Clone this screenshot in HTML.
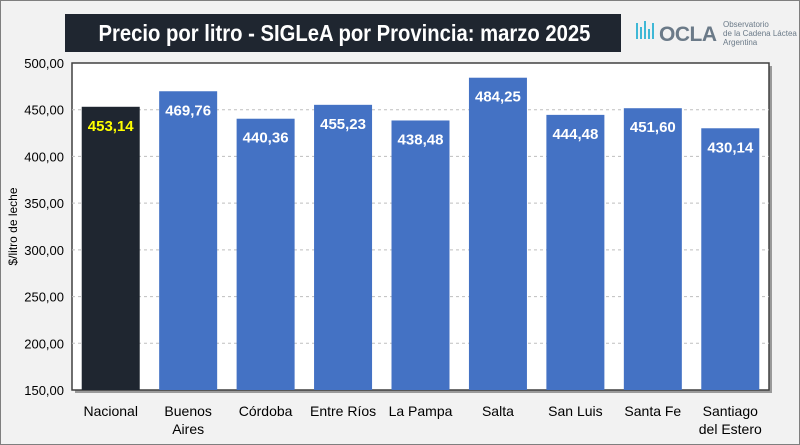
<!DOCTYPE html>
<html><head><meta charset="utf-8"><style>
body{margin:0;background:#fff}
#wrap{position:relative;width:798px;height:443px;background:#f2f2f2;border:1px solid #7f7f7f;font-family:"Liberation Sans",sans-serif}
#title{position:absolute;left:64px;top:13px;width:556px;height:38px;background:#1f2630;color:#fff;font-weight:bold;font-size:23px;line-height:38px;text-align:center;white-space:nowrap;overflow:hidden}
#title span{display:inline-block;transform:scaleX(0.88)}
#logo{position:absolute;left:634px;top:16px;color:#6b7a88}
</style></head><body>
<div id="wrap">
<div id="title"><span>Precio por litro - SIGLeA por Provincia: marzo 2025</span></div>
<div id="logo">
<svg width="165" height="36"><path d="M2 22 V6 M6 22 V10 M10 22 V4 M14 22 V12 M18 22 V6" stroke="#3fb8d6" stroke-width="2" fill="none"/><text x="24" y="24" font-size="21" font-weight="bold" fill="#6b7a88" font-family="Liberation Sans" textLength="58">OCLA</text><text x="88" y="10" font-size="8" fill="#6b7a88">Observatorio</text><text x="88" y="19" font-size="8" fill="#6b7a88">de la Cadena Láctea</text><text x="88" y="28" font-size="8" fill="#6b7a88">Argentina</text></svg></div>
<svg id="chart" width="798" height="443" style="position:absolute;left:0;top:0"></svg>
</div>
<script>
const categories=[["Nacional"],["Buenos","Aires"],["Córdoba"],["Entre Ríos"],["La Pampa"],["Salta"],["San Luis"],["Santa Fe"],["Santiago","del Estero"]];
const values=[453.14,469.76,440.36,455.23,438.48,484.25,444.48,451.60,430.14];
const ticks=[150,200,250,300,350,400,450,500];
const NS="http://www.w3.org/2000/svg",svg=document.getElementById('chart');
const L=71,R=768,T=62,B=389,yMin=150,yMax=500;
const y=v=>B-(v-yMin)/(yMax-yMin)*(B-T);
const slot=(R-L)/categories.length,bw=58;
const xc=i=>L+slot*(i+0.5);
function mk(t,a){const e=document.createElementNS(NS,t);for(const k in a)e.setAttribute(k,a[k]);svg.appendChild(e);return e;}
const fmt=v=>v.toFixed(2).replace('.',',');
let sh=mk('rect',{x:L+3,y:T+3,width:R-L,height:B-T,fill:'#9a9a9a'});

let pa=mk('rect',{x:L,y:T,width:R-L,height:B-T,fill:'#fff',stroke:'#404040','stroke-width':1.5});

ticks.forEach(t=>{
 if(t>yMin&&t<yMax){let g=mk('line',{x1:L,x2:R,y1:y(t),y2:y(t),stroke:'#bfbfbf','stroke-dasharray':'3,3'});
 }
 let tx=mk('text',{x:L-8,y:y(t)+5,'text-anchor':'end','font-size':13,fill:'#000'});tx.textContent=fmt(t);
 
});
values.forEach((v,i)=>{
 let r=mk('rect',{x:xc(i)-bw/2,y:y(v),width:bw,height:B-y(v),fill:i==0?'#1f2630':'#4472c4'});
 
 let lb=mk('text',{x:xc(i),y:y(v)+24,'text-anchor':'middle','font-size':15,'font-weight':'bold',fill:i==0?'#ffff00':'#fff'});lb.textContent=fmt(v);
 
 categories[i].forEach((s,j)=>{let c=mk('text',{x:xc(i),y:B+26+j*18,'text-anchor':'middle','font-size':14,fill:'#000'});c.textContent=s;
 });
});
let yt=mk('text',{x:16,y:(T+B)/2,'text-anchor':'middle','font-size':12,fill:'#000',transform:`rotate(-90 16 ${(T+B)/2})`});yt.textContent='$/litro de leche';

</script>
</body></html>
